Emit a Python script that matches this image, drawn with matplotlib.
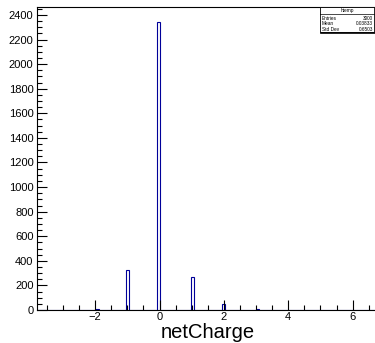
import numpy as np
import matplotlib
matplotlib.use("Agg")
import matplotlib.pyplot as plt
from matplotlib.patches import Rectangle
from matplotlib.lines import Line2D

plt.rcParams['font.family'] = ['Liberation Sans', 'DejaVu Sans']

# netCharge values and entries per value
charge = [-2, -1, 0, 1, 2, 3]
entries = [8, 325, 2340, 265, 50, 12]

# histogram binning (ROOT htemp, 100 bins)
x_min, x_max, n_bins = -3.81, 6.82, 100

# stats box text
stat_title = "htemp"
stat_names = ["Entries", "Mean", "Std Dev"]
stat_values = ["3000", "0.03833", "0.6503"]

edges = np.linspace(x_min, x_max, n_bins + 1)
counts = np.zeros(n_bins)
for v, n in zip(charge, entries):
    idx = np.searchsorted(edges, v, side='right') - 1
    counts[idx] += n

W, H = 375, 343
fig = plt.figure(figsize=(W / 100, H / 100), dpi=100)
ax = fig.add_axes([37 / W, 1 - 310 / H, (379 - 37) / W, (310 - 7) / H])

ax.stairs(counts, edges, color='#000099', linewidth=0.8, baseline=0)

ax.set_xlim(x_min, x_max)
ax.set_ylim(0, 2465)

ax.xaxis.set_major_locator(matplotlib.ticker.MultipleLocator(2))
ax.xaxis.set_minor_locator(matplotlib.ticker.MultipleLocator(0.5))
ax.yaxis.set_major_locator(matplotlib.ticker.MultipleLocator(200))
ax.yaxis.set_minor_locator(matplotlib.ticker.MultipleLocator(50))
ax.tick_params(which='both', direction='in', top=False, right=False, width=0.8)
ax.tick_params(which='major', length=7, labelsize=8, pad=2.5)
ax.tick_params(axis='x', which='major', pad=1.8)
ax.tick_params(which='minor', length=3.5)
for s in ax.spines.values():
    s.set_linewidth(0.8)


# figure pixel coordinates helper
def px(x, y):
    return x / W, 1 - y / H


# axis title, placed like ROOT's (baseline near bottom edge)
fig.text(*px(208, 338.5), "netCharge", fontsize=14.5, ha='center', va='baseline')

# stats box
bx0, bx1, by0, by1 = 320, 374, 7, 32
x0, y0 = px(bx0, by1)
fig.patches.append(Rectangle((x0, y0), (bx1 - bx0) / W, (by1 - by0) / H,
                             transform=fig.transFigure, facecolor='white',
                             edgecolor='black', linewidth=0.6, zorder=5))
# shadow along the bottom
fig.lines.append(Line2D([px(bx0 + 1, 0)[0], px(bx1 + 1, 0)[0]],
                        [px(0, by1 + 0.7)[1]] * 2, transform=fig.transFigure,
                        color='black', linewidth=1.2, zorder=6))
# line under title
fig.lines.append(Line2D([px(bx0, 0)[0], px(bx1, 0)[0]], [px(0, 13.5)[1]] * 2,
                        transform=fig.transFigure, color='black',
                        linewidth=0.5, zorder=6))
fig.text(*px((bx0 + bx1) / 2, 10.5), stat_title, fontsize=3.4,
         ha='center', va='center', zorder=7)
for i, (name, val) in enumerate(zip(stat_names, stat_values)):
    yy = 18.3 + i * 5.4
    fig.text(*px(bx0 + 2, yy), name, fontsize=3.4, ha='left', va='center', zorder=7)
    fig.text(*px(bx1 - 1, yy), val, fontsize=3.4, ha='right', va='center', zorder=7)

fig.savefig("out.png", dpi=100)
